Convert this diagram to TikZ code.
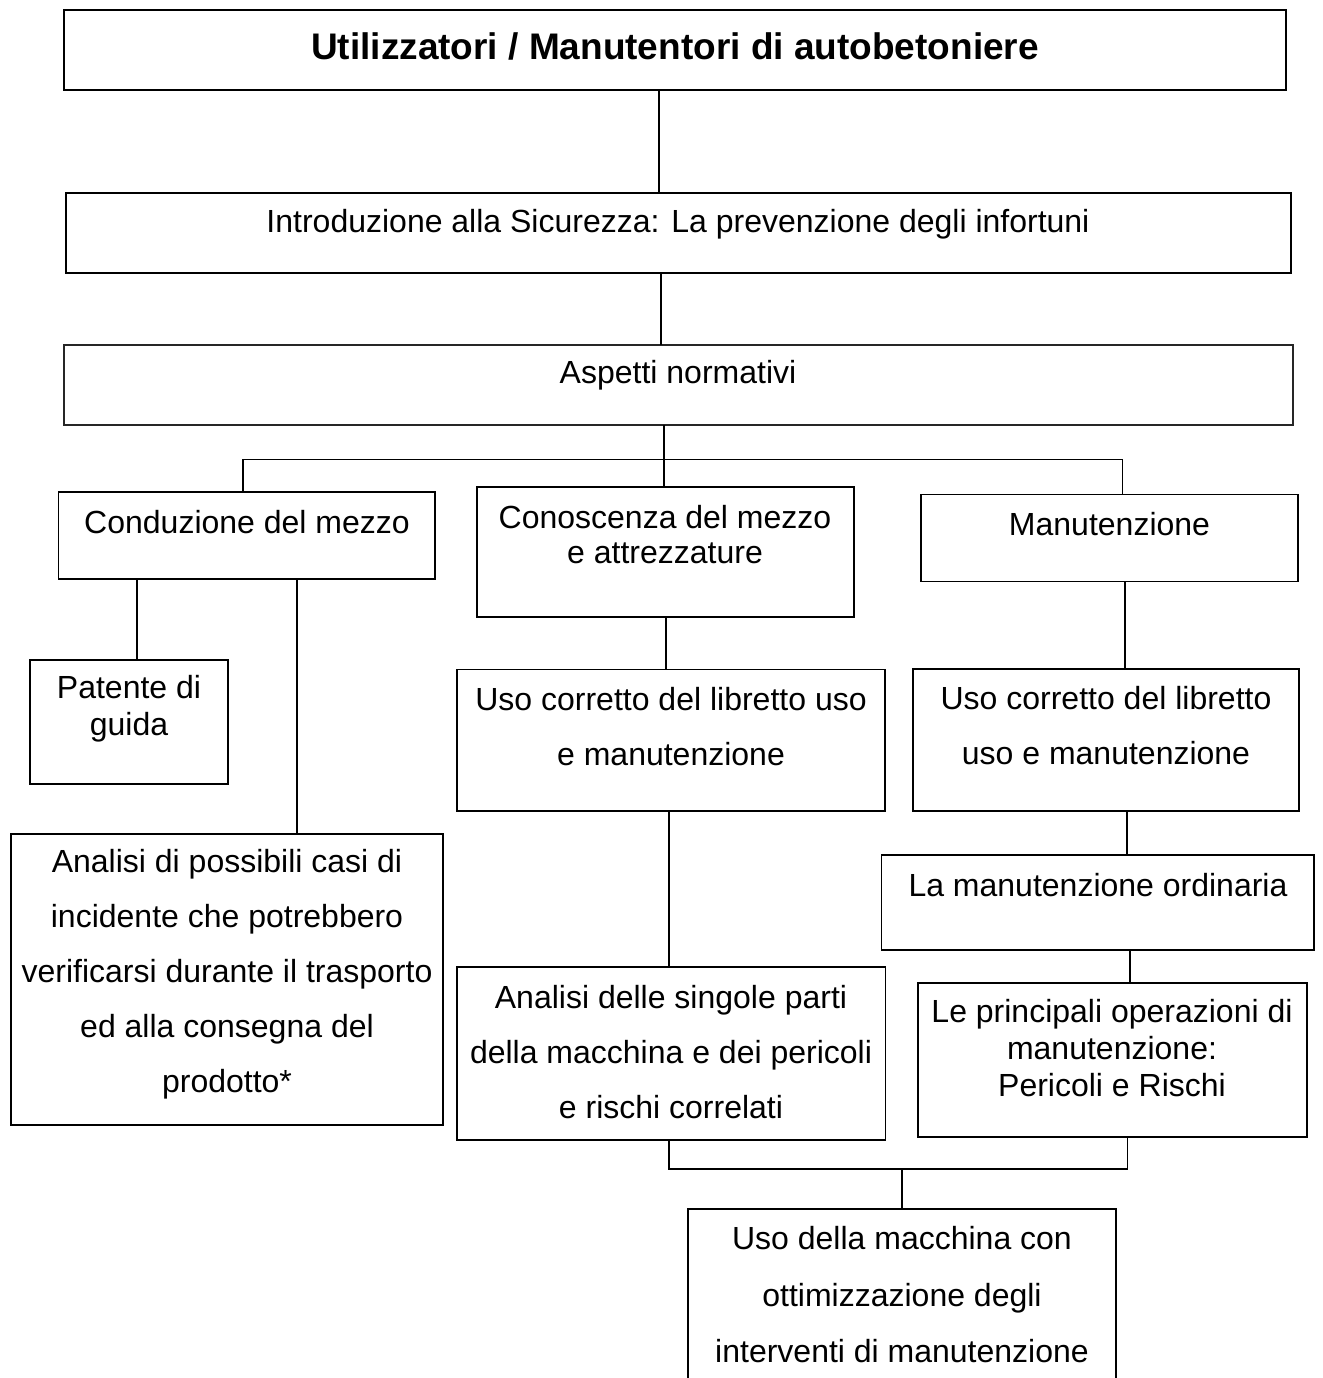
\documentclass[tikz,border=0pt]{standalone}
\usepackage{fontspec}
\setmainfont{Liberation Sans}
\begin{document}
\begin{tikzpicture}[x=1pt,y=-1pt,
  box/.style={draw=black,line width=1.5pt,rectangle,inner sep=0pt,outer sep=0pt},
  conn/.style={draw=black,line width=1.5pt},
  txt/.style={align=center,inner sep=0pt,font=\fontsize{32}{37}\selectfont},
  txtw/.style={align=center,inner sep=0pt,font=\fontsize{32}{55}\selectfont}]
\path[use as bounding box,clip] (0,0) rectangle (1322,1378);
\fill[white] (0,0) rectangle (1322,1378);
% boxes: \bx{name}{x1}{y1}{x2}{y2}
\newcommand{\bx}[6][]{%
  \pgfmathsetmacro{\bw}{#5-#3}\pgfmathsetmacro{\bh}{#6-#4}%
  \node[box,#1,minimum width=\bw pt,minimum height=\bh pt] (#2) at ({(#3+#5)/2},{(#4+#6)/2}) {};}
\bx{b1}{64}{10}{1286}{90}
\bx{b2}{66}{193}{1291}{273}
\bx[line width=2pt,draw=black!85]{b3}{64}{345}{1293}{425}
\bx{cond}{58.5}{492}{435}{579}
\bx{pat}{30}{660}{228}{784}
\bx{anal}{11}{834}{443}{1125}
\bx{cono}{477}{487}{854}{617}
\bx{usom}{457}{669.5}{885}{811}
\bx{andl}{457}{967}{885.5}{1140}
\bx{man}{921}{494.5}{1298}{581.5}
\bx{usor}{913}{669}{1299}{811}
\bx{mord}{881.5}{855}{1314}{950}
\bx{prin}{918}{983}{1307}{1137}
\bx{mac}{688}{1209}{1116}{1410}
% texts
\node[inner sep=0pt,font=\fontsize{37}{42}\selectfont\bfseries] (t1) at (675,46) {Utilizzatori / Manutentori di autobetoniere};
\node[txt] (t2) at (678,224) {Introduzione alla Sicurezza: La prevenzione degli infortuni};
\node[txt] (t3) at (678,375) {Aspetti normativi};
\node[txt] (tcond) at (247,522) {Conduzione del mezzo};
\node[txt] (tpat) at (129,709) {Patente di\\guida};
\node[txtw] (tanal) at (227,974) {Analisi di possibili casi di\\incidente che potrebbero\\verificarsi durante il trasporto\\ed alla consegna del\\prodotto*};
\node[txt,font=\fontsize{32}{35}\selectfont] (tcono) at (665,535) {Conoscenza del mezzo\\e attrezzature};
\node[txtw] (tusom) at (671,727) {Uso corretto del libretto uso\\e manutenzione};
\node[txtw] (tandl) at (671,1052) {Analisi delle singole parti\\della macchina e dei pericoli\\e rischi correlati};
\node[txt] (tman) at (1109.5,524) {Manutenzione};
\node[txtw] (tusor) at (1106,726) {Uso corretto del libretto\\uso e manutenzione};
\node[txt] (tmord) at (1098,885) {La manutenzione ordinaria};
\node[txt] (tprin) at (1112,1048) {Le principali operazioni di\\manutenzione:\\Pericoli e Rischi};
\node[txtw,font=\fontsize{32}{56.5}\selectfont] (tmac) at (902,1295) {Uso della macchina con\\ottimizzazione degli\\interventi di manutenzione};
% connector x positions
\coordinate (x1) at (659,0);
\coordinate (x2) at (661,0);
\coordinate (x3) at (664,0);
\coordinate (bus) at (0,459.3);
\coordinate (xl) at (243,0);
\coordinate (xr) at (1122.5,0);
\coordinate (xp) at (137,0);
\coordinate (xa) at (297,0);
\coordinate (xm1) at (666,0);
\coordinate (xm2) at (669,0);
\coordinate (xr1) at (1125,0);
\coordinate (xr2) at (1127,0);
\coordinate (xr3) at (1130,0);
\coordinate (xbl) at (669,0);
\coordinate (xbr) at (1127.5,0);
\coordinate (bot) at (0,1169);
\coordinate (xmc) at (902,0);
% connectors
\draw[conn] (b1.south -| x1) -- (b2.north -| x1);
\draw[conn] (b2.south -| x2) -- (b3.north -| x2);
\draw[conn] (b3.south -| x3) -- (cono.north -| x3);
\draw[conn,line cap=rect] (cond.north -| xl) -- (bus -| xl) -- (bus -| xr) -- (man.north -| xr);
\draw[conn] (cond.south -| xp) -- (pat.north -| xp);
\draw[conn] (cond.south -| xa) -- (anal.north -| xa);
\draw[conn] (cono.south -| xm1) -- (usom.north -| xm1);
\draw[conn] (usom.south -| xm2) -- (andl.north -| xm2);
\draw[conn] (man.south -| xr1) -- (usor.north -| xr1);
\draw[conn] (usor.south -| xr2) -- (mord.north -| xr2);
\draw[conn] (mord.south -| xr3) -- (prin.north -| xr3);
\draw[conn] (andl.south -| xbl) -- (bot -| xbl) -- (bot -| xbr) -- (prin.south -| xbr);
\draw[conn] (bot -| xmc) -- (mac.north -| xmc);
\end{tikzpicture}
\end{document}
